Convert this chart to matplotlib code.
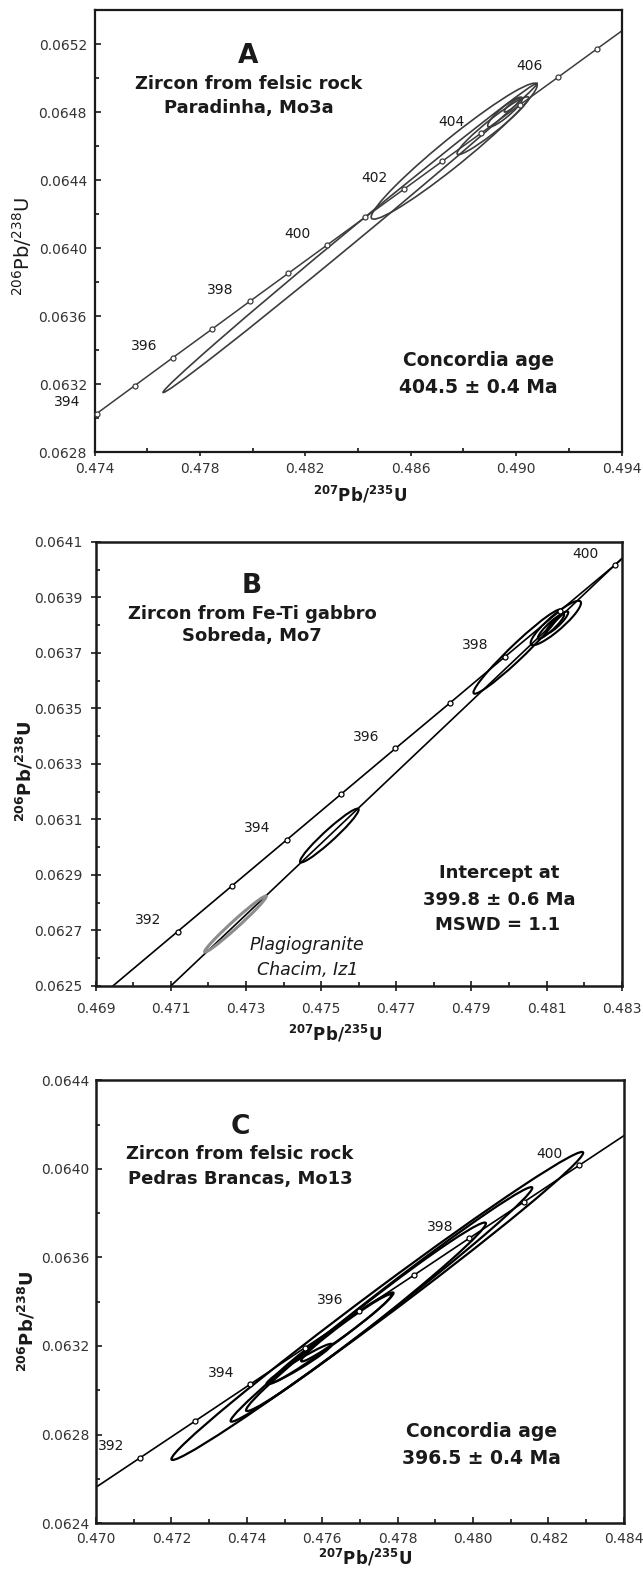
import numpy as np
import matplotlib
matplotlib.use("Agg")
import matplotlib.pyplot as plt
from matplotlib.patches import Circle
from matplotlib.transforms import Affine2D
from matplotlib.ticker import MultipleLocator, FormatStrFormatter

plt.rcParams["font.family"] = ["DejaVu Sans"]
plt.rcParams["mathtext.default"] = "regular"

# concordia markers (age in Ma and their 207Pb/235U, 206Pb/238U positions)
conc_age = [390, 391, 392, 393, 394, 395, 396, 397, 398, 399,
            400, 401, 402, 403, 404, 405, 406, 407, 408]
conc_x = [0.46828, 0.46973, 0.47118, 0.47263, 0.47408, 0.47553, 0.47698,
          0.47844, 0.47989, 0.48135, 0.48281, 0.48427, 0.48574, 0.48720,
          0.48867, 0.49013, 0.49160, 0.49307, 0.49454]
conc_y = [0.062366, 0.062531, 0.062696, 0.062861, 0.063026, 0.063191,
          0.063356, 0.063521, 0.063686, 0.063851, 0.064016, 0.064181,
          0.064346, 0.064511, 0.064676, 0.064841, 0.065006, 0.065172,
          0.065337]

# panel A - Paradinha, Mo3a
a_marks = [394, 395, 396, 397, 398, 399, 400, 401, 402, 403, 404, 405, 406, 407]
a_labels = [394, 396, 398, 400, 402, 404, 406]
a_cx = [0.48370, 0.48765, 0.48912, 0.48958, 0.48985]
a_cy = [0.064060, 0.064570, 0.064720, 0.064800, 0.064840]
a_sx = [0.00710, 0.00315, 0.00136, 0.00066, 0.00030]
a_sy = [0.000910, 0.000400, 0.000170, 0.000088, 0.000040]
a_rho = [0.9985, 0.968, 0.96, 0.90, 0.90]

# panel B - Sobreda, Mo7 (+ plagiogranite Iz1 in grey)
b_marks = [392, 393, 394, 395, 396, 397, 398, 399, 400]
b_labels = [392, 394, 396, 398, 400]
b_cx = [0.47522, 0.480225, 0.481248, 0.48128, 0.48112]
b_cy = [0.063042, 0.063705, 0.063808, 0.063810, 0.063796]
b_sx = [0.00078, 0.00117, 0.00067, 0.00030, 0.00035]
b_sy = [0.000097, 0.000152, 0.000080, 0.000040, 0.000045]
b_rho = [0.96, 0.97, 0.90, 0.90, 0.92]
iz1_ell = (0.47272, 0.062723, 0.00082, 0.000101, 0.985)
disc_x = [0.4710, 0.4830]
disc_y = [0.06250, 0.06404]

# panel C - Pedras Brancas, Mo13
c_marks = [392, 393, 394, 395, 396, 397, 398, 399, 400]
c_labels = [392, 394, 396, 398, 400]
c_cx = [0.47746, 0.47757, 0.47716, 0.47626, 0.47664, 0.47539]
c_cy = [0.063381, 0.063388, 0.063332, 0.063238, 0.063282, 0.063118]
c_sx = [0.00546, 0.00400, 0.00318, 0.00163, 0.00120, 0.00087]
c_sy = [0.000696, 0.000530, 0.000426, 0.000204, 0.000152, 0.000092]
c_rho = [0.994, 0.993, 0.99, 0.985, 0.98, 0.97]

TXT = "#1a1a1a"


def draw_concordia(ax, marks, labels, color, lw):
    ax.plot(conc_x, conc_y, color=color, lw=lw, zorder=2)
    idx = [conc_age.index(a) for a in marks]
    ax.plot([conc_x[i] for i in idx], [conc_y[i] for i in idx], "o", ms=3.6,
            mfc="white", mec=color, mew=0.9, zorder=5, clip_on=False)
    for a in labels:
        i = conc_age.index(a)
        ax.annotate(str(a), (conc_x[i], conc_y[i]), xytext=(-21, 8.3),
                    textcoords="offset points", ha="center", va="center",
                    fontsize=10, color=TXT, annotation_clip=False)


def draw_ellipse(ax, cx, cy, sx, sy, rho, color, lw):
    # unit circle mapped onto the error ellipse in data space
    m = Affine2D(np.array([[sx, 0, cx],
                           [sy * rho, sy * np.sqrt(1 - rho * rho), cy],
                           [0, 0, 1]]))
    ax.add_patch(Circle((0, 0), 1, transform=m + ax.transData, fill=False,
                        ec=color, lw=lw, zorder=3))


def setup_axes(ax, xlim, ylim, xstep, ystep, xoff, yoff, spine_lw):
    ax.set_xlim(*xlim)
    ax.set_ylim(*ylim)
    ax.xaxis.set_major_locator(MultipleLocator(xstep, offset=xoff))
    ax.xaxis.set_minor_locator(MultipleLocator(xstep / 2))
    ax.yaxis.set_major_locator(MultipleLocator(ystep, offset=yoff))
    ax.yaxis.set_minor_locator(MultipleLocator(ystep / 2))
    ax.xaxis.set_major_formatter(FormatStrFormatter("%.3f"))
    ax.yaxis.set_major_formatter(FormatStrFormatter("%.4f"))
    for s in ax.spines.values():
        s.set_linewidth(spine_lw)
        s.set_color(TXT)
    ax.tick_params(labelsize=10, labelcolor="#333333", color=TXT)
    ax.tick_params(which="minor", direction="in", length=3, width=1.1)


fig = plt.figure(figsize=(6.43, 15.75), dpi=100)

# ---------------- A ----------------
ax = fig.add_axes([0.147, 0.7130, 0.8196, 0.2806])
setup_axes(ax, (0.474, 0.494), (0.0628, 0.0654), 0.004, 0.0004, 0.002, 0.0, 1.6)
ax.tick_params(axis="y", which="major", direction="in", length=4.5, width=1.2, pad=5.5)
ax.tick_params(axis="x", which="major", direction="out", length=3, width=1.2, pad=4)
col = "#3c3c3c"
draw_concordia(ax, a_marks, a_labels, col, 1.1)
for p in zip(a_cx, a_cy, a_sx, a_sy, a_rho):
    draw_ellipse(ax, *p, col, 1.2)
ax.text(0.292, 0.897, "A", transform=ax.transAxes, ha="center", va="center",
        fontsize=19, fontweight="bold", color=TXT)
ax.text(0.293, 0.833, "Zircon from felsic rock", transform=ax.transAxes,
        ha="center", va="center", fontsize=13, fontweight="bold", color=TXT)
ax.text(0.293, 0.778, "Paradinha, Mo3a", transform=ax.transAxes,
        ha="center", va="center", fontsize=13, fontweight="bold", color=TXT)
ax.text(0.728, 0.206, "Concordia age", transform=ax.transAxes,
        ha="center", va="center", fontsize=13.5, fontweight="bold", color=TXT)
ax.text(0.728, 0.147, "404.5 ± 0.4 Ma", transform=ax.transAxes,
        ha="center", va="center", fontsize=13.5, fontweight="bold", color=TXT)
ax.set_xlabel(r"$^{\mathbf{207}}$Pb/$^{\mathbf{235}}$U", fontsize=12,
              fontweight="bold", va="center", color=TXT)
ax.xaxis.set_label_coords(0.504, -0.097)
ax.set_ylabel(r"$^{206}$Pb/$^{238}$U", fontsize=14, va="center", color=TXT)
ax.yaxis.set_label_coords(-0.1366, 0.4645)

# ---------------- B ----------------
ax = fig.add_axes([0.1488, 0.374, 0.818, 0.2819])
setup_axes(ax, (0.469, 0.483), (0.0625, 0.0641), 0.002, 0.0002, 0.001, 0.0001, 1.8)
ax.tick_params(which="major", direction="inout", length=7.7, width=1.2, pad=5.5)
ax.tick_params(axis="x", which="major", pad=7.5)
draw_concordia(ax, b_marks, b_labels, "black", 1.2)
ax.plot(disc_x, disc_y, color="black", lw=1.2, zorder=2)
for p in zip(b_cx, b_cy, b_sx, b_sy, b_rho):
    draw_ellipse(ax, *p, "black", 1.5)
draw_ellipse(ax, *iz1_ell, "#8c8c8c", 2.2)
ax.text(0.297, 0.9015, "B", transform=ax.transAxes, ha="center", va="center",
        fontsize=19, fontweight="bold", color=TXT)
ax.text(0.297, 0.838, "Zircon from Fe-Ti gabbro", transform=ax.transAxes,
        ha="center", va="center", fontsize=13, fontweight="bold", color=TXT)
ax.text(0.297, 0.788, "Sobreda, Mo7", transform=ax.transAxes,
        ha="center", va="center", fontsize=13, fontweight="bold", color=TXT)
ax.text(0.767, 0.2554, "Intercept at", transform=ax.transAxes,
        ha="center", va="center", fontsize=13, fontweight="bold", color=TXT)
ax.text(0.767, 0.1947, "399.8 ± 0.6 Ma", transform=ax.transAxes,
        ha="center", va="center", fontsize=13, fontweight="bold", color=TXT)
ax.text(0.765, 0.1375, "MSWD = 1.1", transform=ax.transAxes,
        ha="center", va="center", fontsize=13, fontweight="bold", color=TXT)
ax.text(0.4025, 0.0913, "Plagiogranite", transform=ax.transAxes,
        ha="center", va="center", fontsize=12.5, style="italic", color=TXT)
ax.text(0.4025, 0.036, "Chacim, Iz1", transform=ax.transAxes,
        ha="center", va="center", fontsize=12.5, style="italic", color=TXT)
ax.set_xlabel(r"$^{\mathbf{207}}$Pb/$^{\mathbf{235}}$U", fontsize=12,
              fontweight="bold", va="center", color=TXT)
ax.xaxis.set_label_coords(0.455, -0.108)
ax.set_ylabel(r"$^{\mathbf{206}}$Pb/$^{\mathbf{238}}$U", fontsize=13,
              fontweight="bold", va="center", color=TXT)
ax.yaxis.set_label_coords(-0.135, 0.4846)

# ---------------- C ----------------
ax = fig.add_axes([0.1493, 0.0330, 0.821, 0.281])
setup_axes(ax, (0.470, 0.484), (0.0624, 0.0644), 0.002, 0.0004, 0.0, 0.0, 1.8)
ax.tick_params(which="major", direction="in", length=4.5, width=1.2, pad=5)
ax.tick_params(axis="x", which="major", pad=6.5)
draw_concordia(ax, c_marks, c_labels, "black", 1.2)
for p in zip(c_cx, c_cy, c_sx, c_sy, c_rho):
    draw_ellipse(ax, *p, "black", 1.6)
ax.text(0.2725, 0.895, "C", transform=ax.transAxes, ha="center", va="center",
        fontsize=19, fontweight="bold", color=TXT)
ax.text(0.2725, 0.8348, "Zircon from felsic rock", transform=ax.transAxes,
        ha="center", va="center", fontsize=13, fontweight="bold", color=TXT)
ax.text(0.2725, 0.7774, "Pedras Brancas, Mo13", transform=ax.transAxes,
        ha="center", va="center", fontsize=13, fontweight="bold", color=TXT)
ax.text(0.7296, 0.2068, "Concordia age", transform=ax.transAxes,
        ha="center", va="center", fontsize=13.5, fontweight="bold", color=TXT)
ax.text(0.7296, 0.1457, "396.5 ± 0.4 Ma", transform=ax.transAxes,
        ha="center", va="center", fontsize=13.5, fontweight="bold", color=TXT)
ax.set_xlabel(r"$^{\mathbf{207}}$Pb/$^{\mathbf{235}}$U", fontsize=12,
              fontweight="bold", va="center", color=TXT)
ax.xaxis.set_label_coords(0.51, -0.079)
ax.set_ylabel(r"$^{\mathbf{206}}$Pb/$^{\mathbf{238}}$U", fontsize=13,
              fontweight="bold", va="center", color=TXT)
ax.yaxis.set_label_coords(-0.1315, 0.4565)

fig.savefig("out.png", dpi=100, facecolor="white")
